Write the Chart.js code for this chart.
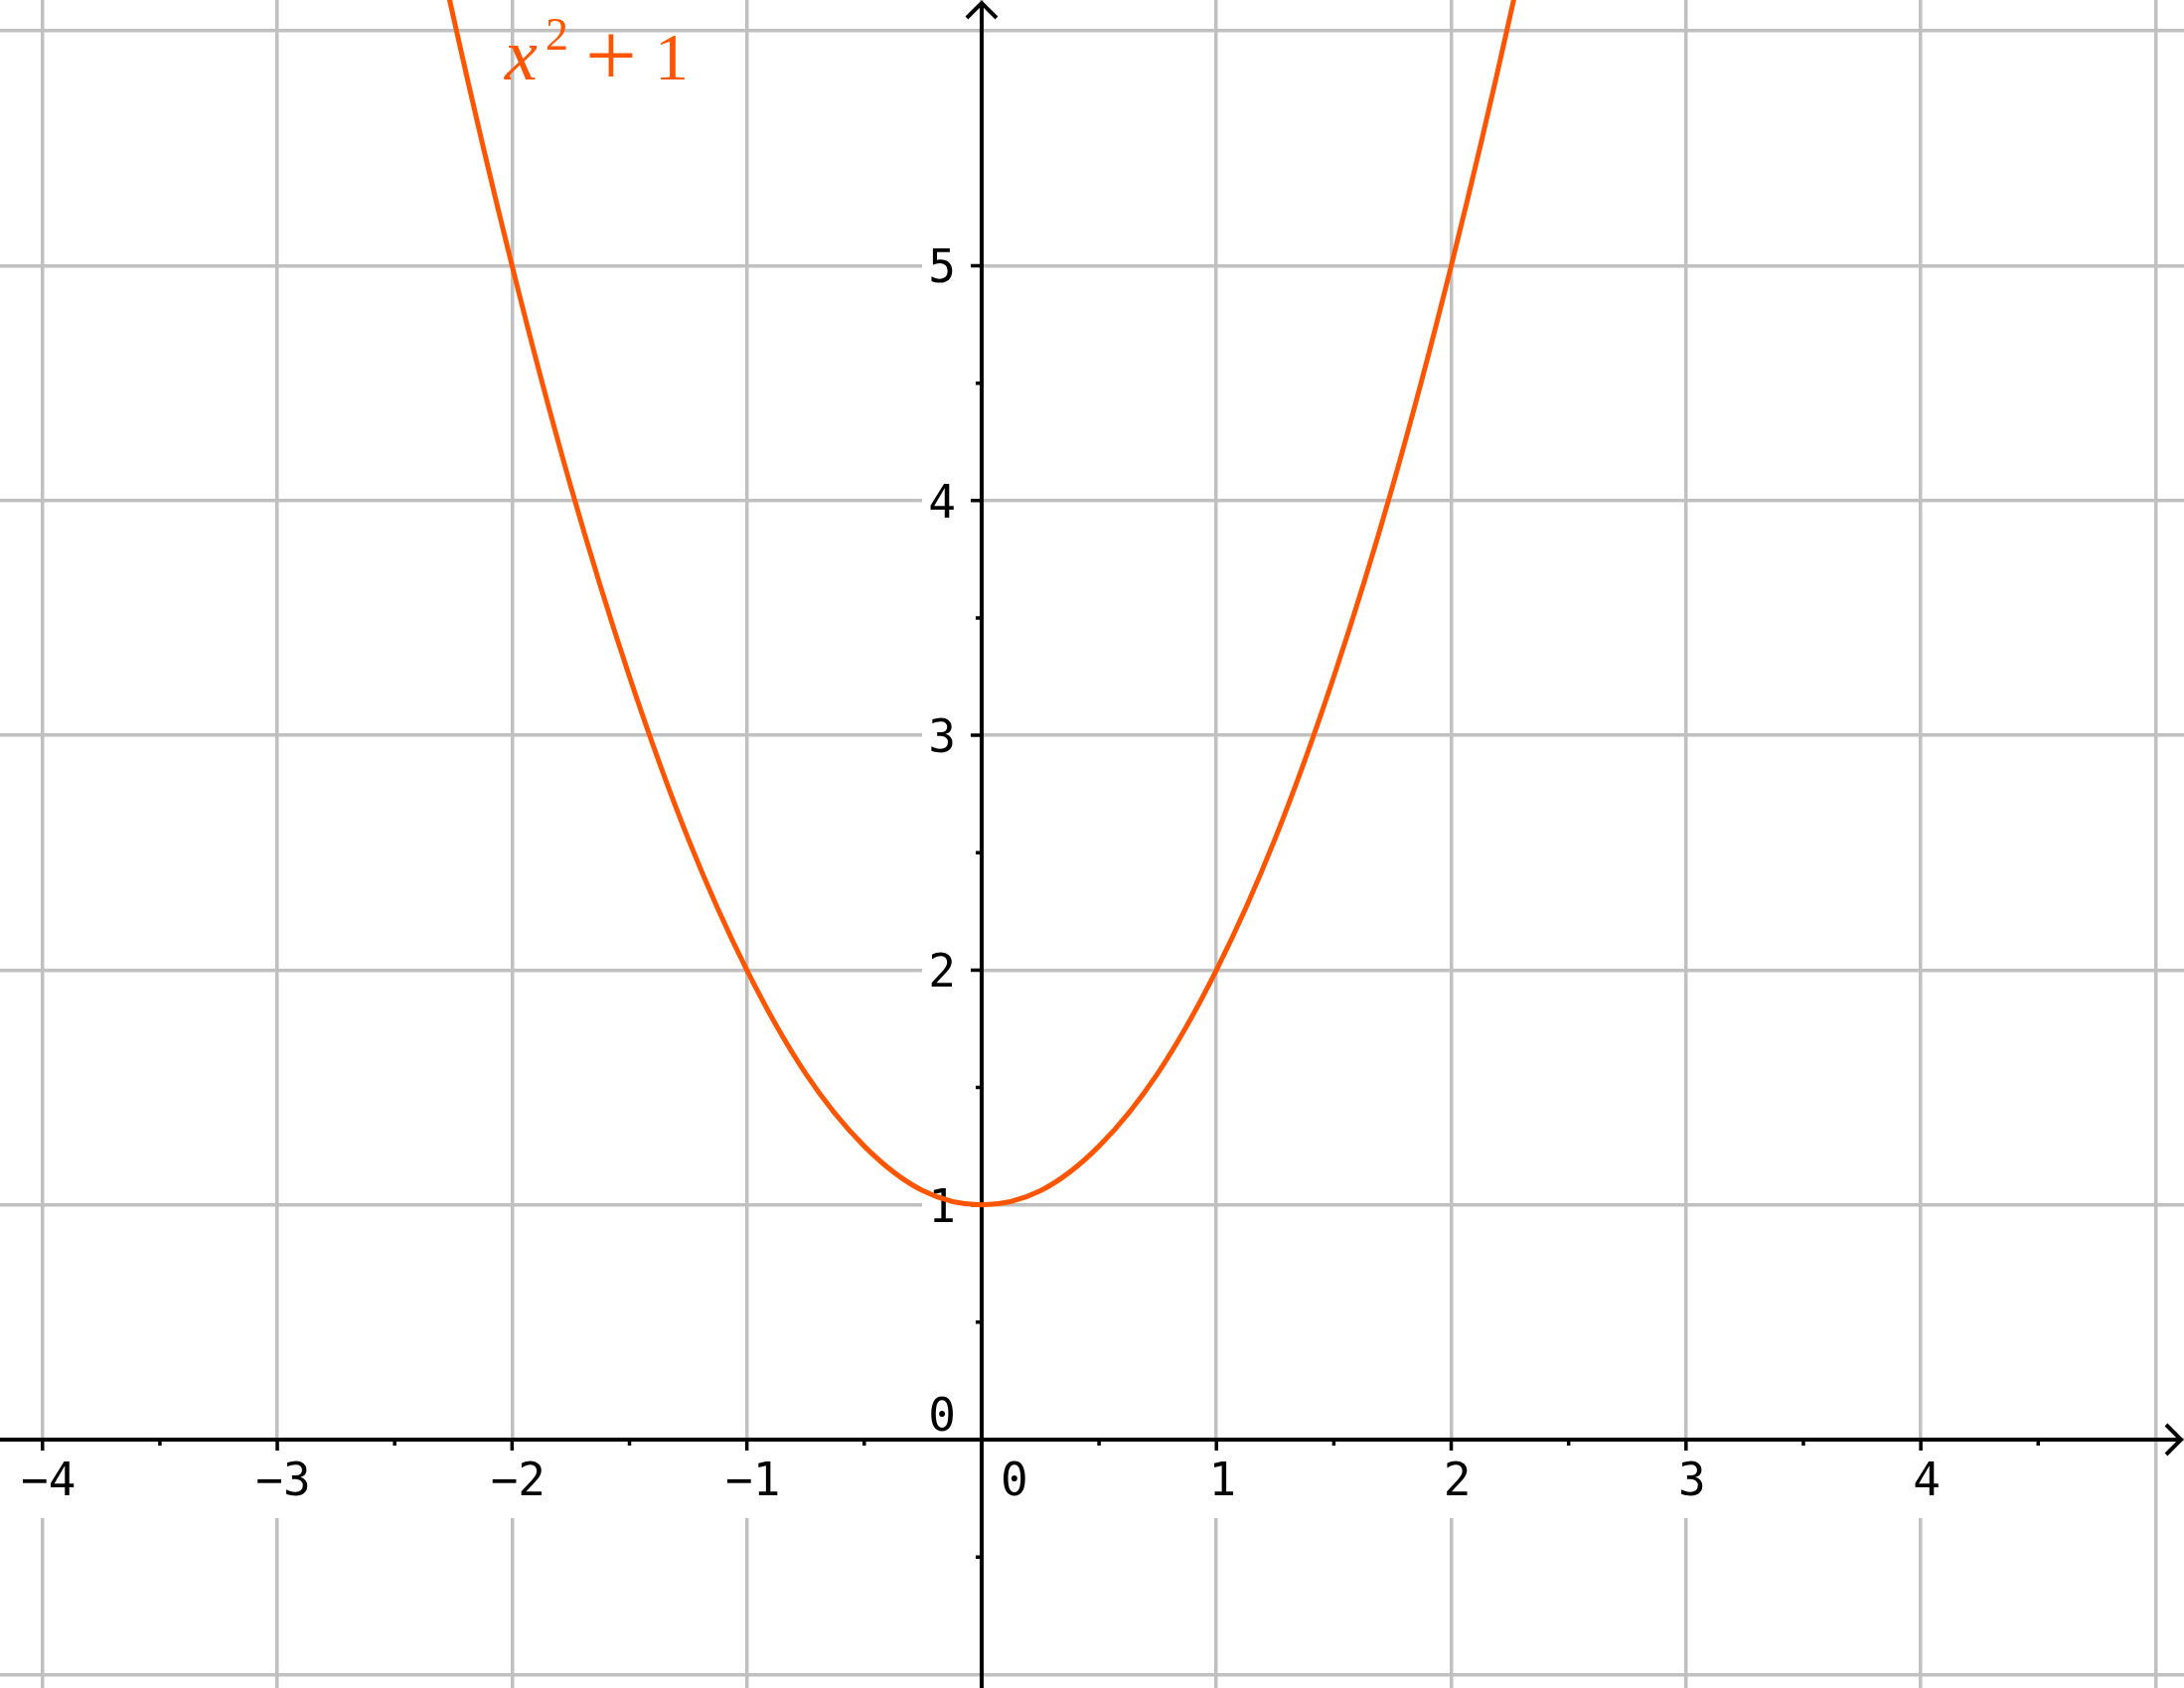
<!DOCTYPE html>
<html>
<head>
<meta charset="utf-8">
<script src="https://cdn.jsdelivr.net/npm/chart.js@4.4.0/dist/chart.umd.min.js"></script>
<style>
html, body { margin: 0; padding: 0; background: #fff; }
#wrap { width: 2198px; height: 1699px; }
</style>
</head>
<body>
<div id="wrap"><canvas id="myChart"></canvas></div>
<script>
// curve points
var xs = [-2.5, -2.25, -2, -1.75, -1.5, -1.25, -1, -0.75, -0.5, -0.25, 0,
          0.25, 0.5, 0.75, 1, 1.25, 1.5, 1.75, 2, 2.25, 2.5];
var ys = [7.25, 6.06, 5, 4.06, 3.25, 2.56, 2, 1.56, 1.25, 1.06, 1,
          1.06, 1.25, 1.56, 2, 2.56, 3.25, 4.06, 5, 6.06, 7.25];

var xTicks = [-4, -3, -2, -1, 1, 2, 3, 4];
var xTickLabels = ['\u22124', '\u22123', '\u22122', '\u22121', '1', '2', '3', '4'];
var yTicks = [1, 2, 3, 4, 5];
var yTickLabels = ['1', '2', '3', '4', '5'];
var xMinor = [-3.5, -2.5, -1.5, -0.5, 0.5, 1.5, 2.5, 3.5, 4.5];
var yMinor = [-0.5, 0.5, 1.5, 2.5, 3.5, 4.5];

var curveColor = 'rgb(255, 85, 0)';
var gridColor = '#c0c0c0';
var labelPos = [-2.031, 5.793];

var points = xs.map(function (v, i) { return {x: v, y: ys[i]}; });

var axesPlugin = {
    id: 'axes',
    beforeDatasetsDraw: function (chart) {
        var c = chart.ctx, sx = chart.scales.x, sy = chart.scales.y, a = chart.chartArea;
        var x0 = sx.getPixelForValue(0), y0 = sy.getPixelForValue(0);
        c.save();
        // breaks in the grid behind the tick labels
        c.fillStyle = '#fff';
        yTicks.forEach(function (v) {
            var py = sy.getPixelForValue(v);
            c.fillRect(x0 - 60, py - 22, 58, 44);
        });
        xTicks.forEach(function (v) {
            var px = sx.getPixelForValue(v);
            c.fillRect(px - 32, y0 + 2, 64, 77);
        });
        // axes with open arrow heads
        c.strokeStyle = '#000';
        c.lineWidth = 4;
        c.beginPath();
        c.moveTo(a.left, y0); c.lineTo(a.right - 3, y0);
        c.moveTo(x0, a.bottom); c.lineTo(x0, a.top + 3);
        c.stroke();
        c.beginPath();
        c.moveTo(a.right - 18, y0 - 15); c.lineTo(a.right - 3, y0); c.lineTo(a.right - 18, y0 + 15);
        c.moveTo(x0 - 15, a.top + 18); c.lineTo(x0, a.top + 3); c.lineTo(x0 + 15, a.top + 18);
        c.stroke();
        // tick marks
        c.lineWidth = 3.5;
        c.beginPath();
        xTicks.forEach(function (v) { var px = sx.getPixelForValue(v); c.moveTo(px, y0); c.lineTo(px, y0 + 11); });
        xMinor.forEach(function (v) { var px = sx.getPixelForValue(v); c.moveTo(px, y0); c.lineTo(px, y0 + 6); });
        yTicks.forEach(function (v) { var py = sy.getPixelForValue(v); c.moveTo(x0, py); c.lineTo(x0 - 11, py); });
        yMinor.forEach(function (v) { var py = sy.getPixelForValue(v); c.moveTo(x0, py); c.lineTo(x0 - 6, py); });
        c.stroke();
        // tick labels
        c.fillStyle = '#000';
        c.font = '46px "DejaVu Sans Mono"';
        c.textBaseline = 'alphabetic';
        c.textAlign = 'center';
        xTicks.forEach(function (v, i) {
            c.fillText(xTickLabels[i], sx.getPixelForValue(v) + 6, y0 + 56);
        });
        c.fillText('0', x0 + 33, y0 + 56);
        c.textAlign = 'right';
        yTicks.forEach(function (v, i) {
            c.fillText(yTickLabels[i], x0 - 26, sy.getPixelForValue(v) + 17);
        });
        c.fillText('0', x0 - 26, y0 - 9);
        c.restore();
    },
    afterDatasetsDraw: function (chart) {
        var c = chart.ctx;
        var lx = chart.scales.x.getPixelForValue(labelPos[0]);
        var ly = chart.scales.y.getPixelForValue(labelPos[1]);
        c.save();
        c.fillStyle = curveColor;
        c.textAlign = 'left';
        c.textBaseline = 'alphabetic';
        c.font = 'italic 74px "Liberation Serif"';
        c.fillText('x', lx, ly);
        c.font = '46px "Liberation Serif"';
        c.fillText('2', lx + 41, ly - 30);
        c.font = '92px "Liberation Serif"';
        c.fillText('+', lx + 81, ly + 6);
        c.font = '68px "Liberation Serif"';
        c.fillText('1', lx + 151, ly);
        c.restore();
    }
};

var ctx = document.getElementById('myChart').getContext('2d');
var myChart = new Chart(ctx, {
    type: 'line',
    data: {
        datasets: [{
            data: points,
            borderColor: curveColor,
            borderWidth: 5,
            pointRadius: 0,
            cubicInterpolationMode: 'monotone',
            fill: false
        }]
    },
    options: {
        responsive: true,
        maintainAspectRatio: false,
        animation: false,
        layout: { padding: 0 },
        plugins: { legend: { display: false }, tooltip: { enabled: false } },
        scales: {
            x: {
                type: 'linear',
                min: -4.181, max: 5.121,
                border: { display: false },
                grid: { color: gridColor, lineWidth: 3.5, drawTicks: false },
                ticks: { display: false, stepSize: 1, includeBounds: false }
            },
            y: {
                type: 'linear',
                min: -1.058, max: 6.132,
                border: { display: false },
                grid: { color: gridColor, lineWidth: 3.5, drawTicks: false },
                ticks: { display: false, stepSize: 1, includeBounds: false }
            }
        }
    },
    plugins: [axesPlugin]
});
</script>
</body>
</html>
